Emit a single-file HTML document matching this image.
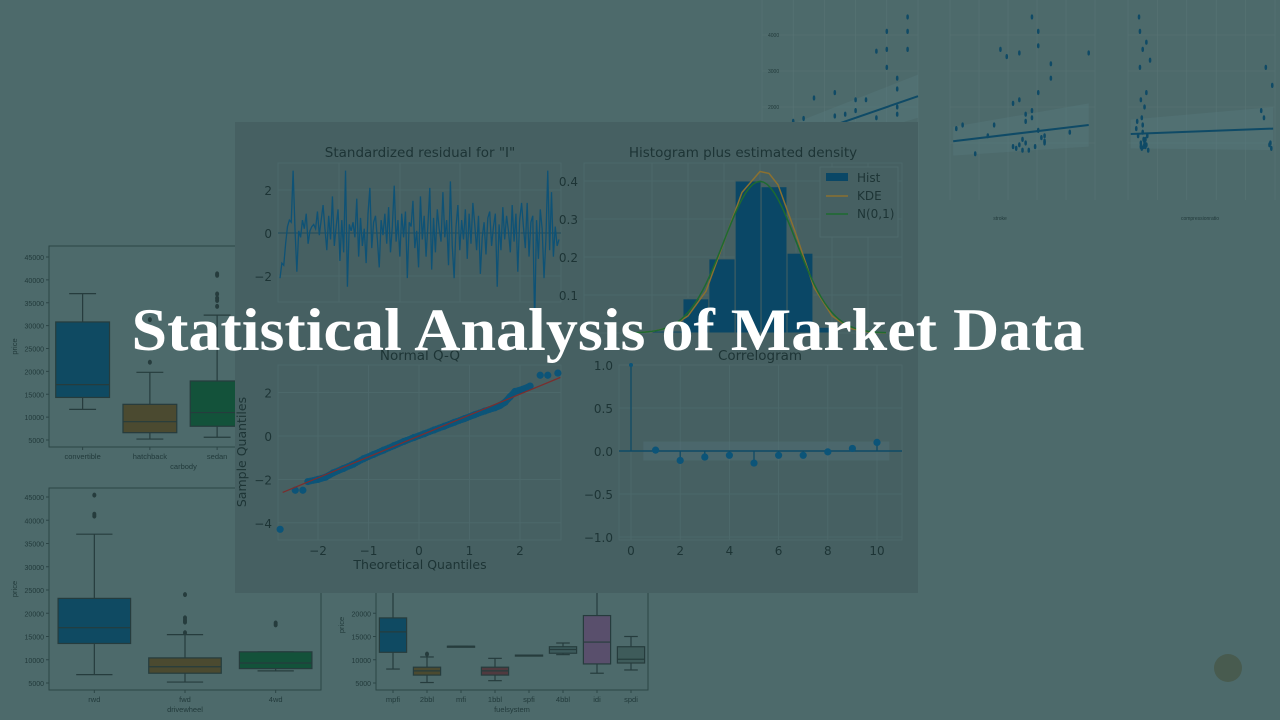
<!DOCTYPE html>
<html><head><meta charset="utf-8"><style>
html,body{margin:0;padding:0;background:#4d6a6b;width:1280px;height:720px;overflow:hidden}
svg{display:block}
.t{font-family:"DejaVu Sans","Liberation Sans",sans-serif;fill:#1d3435}
.s{font-family:"Liberation Sans",sans-serif;fill:#223a3b}
</style></head><body>
<svg id="c" width="1280" height="720" viewBox="0 0 1280 720" xmlns="http://www.w3.org/2000/svg">
<rect width="1280" height="720" fill="#4d6a6b"/>
<g id="bg"></g>
<g id="panel"></g>
<circle cx="1228" cy="668" r="14" fill="#485b4f"/>
<text x="608" y="350" text-anchor="middle" textLength="953" lengthAdjust="spacingAndGlyphs" font-family="'Liberation Serif',serif" font-weight="bold" font-size="60" fill="#ffffff">Statistical Analysis of Market Data</text>
</svg>
<script>
// ---- data ----
const carbodyCats=["convertible","hatchback","sedan","wagon"];
const carbodyStats=[[11700,14300,17100,30800,37000],[5200,6600,9000,12800,19800],[5600,8000,11000,17900,32300],[6900,8000,11900,15900,19000]];
const carbodyOut=[[],[22000,31300],[34200,35500,36000,36900,41000,41300],[]];
const driveCats=["rwd","fwd","4wd"];
const driveStats=[[6800,13500,16900,23200,37000],[5200,7100,8500,10400,15400],[7600,8100,9300,11700,11700]];
const driveOut=[[40900,41300,45400],[15800,18100,18500,19000,24000],[17500,17900]];
const fuelCats=["mpfi","2bbl","mfi","1bbl","spfi","4bbl","idi","spdi"];
const fuelStats=[[8000,11600,16000,19000,25000],[5100,6700,7600,8400,10600],[12900,12900,12900,12900,12900],[5500,6700,7600,8400,10300],[11000,11000,11000,11000,11000],[11100,11400,12200,12800,13600],[7100,9100,13800,19500,26000],[7800,9300,10100,12800,15000]];
const fuelOut=[[],[11200],[],[],[],[],[],[]];
const residuals=[-2.1,-1.4,-1.5,-0.5,0.3,0.6,0.5,2.9,0.2,-1.8,0.1,-0.2,0.6,0.2,0.9,-0.5,0.1,0.3,0.4,0.2,1.0,-0.1,0.6,1.3,0.2,-0.8,0.8,-0.3,1.7,-0.6,0.3,1.1,-1.3,0.6,-0.9,2.9,-2.5,0.4,0.1,0.5,-0.2,1.6,-1.1,0.7,-0.6,0.2,-1.4,0.9,2.1,-0.7,0.5,0.8,-0.3,-1.6,0.6,-0.1,0.9,-0.5,1.2,-0.9,0.3,2.2,-0.4,0.6,-1.1,0.9,-0.2,1.0,-2.1,0.5,0.3,1.5,-0.7,0.1,-1.6,1.7,-0.3,0.8,-1.1,0.4,2.1,-1.7,0.7,-0.9,1.1,0.2,-0.4,1.9,-0.2,0.6,-1.5,2.4,-0.6,-2.1,0.3,1.3,-0.8,0.6,-0.3,1.1,-1.2,0.9,-0.5,1.4,0.4,-0.8,0.8,-1.9,-0.2,0.5,-1.0,0.7,1.0,-0.6,0.3,0.9,-2.5,0.4,-0.8,1.2,-0.3,0.8,0.1,-0.9,1.3,-0.4,0.9,-1.8,0.6,1.4,0.3,-0.7,1.4,-1.1,0.5,0.8,-4.2,0.6,-1.2,1.1,0.2,-2.1,-0.3,2.9,-0.8,1.9,-1.1,0.3,-0.6,-0.3];
const histEdges=[-3.0,-2.14,-1.42,-0.69,0.03,0.75,1.47,2.17];
const histDens=[0.005,0.09,0.195,0.40,0.385,0.21,0.015];
const kdeX=[-3.5,-3,-2.5,-2,-1.5,-1,-0.5,0,0.25,0.5,1,1.5,2,2.5,3,3.5];
const kdeY=[0.0,0.004,0.015,0.045,0.11,0.24,0.37,0.425,0.42,0.39,0.26,0.12,0.045,0.012,0.003,0.0];
const qqT=[-2.75,-2.45,-2.3,-2.2,-2.0,-1.85,-1.7,-1.5,-1.3,-1.1,-0.9,-0.7,-0.5,-0.3,-0.1,0.1,0.3,0.5,0.7,0.9,1.1,1.3,1.5,1.6,1.7,1.8,1.9,2.05,2.2,2.4,2.55,2.75];
const qqS=[-4.3,-2.5,-2.5,-2.1,-2.0,-1.9,-1.7,-1.5,-1.3,-1.05,-0.85,-0.65,-0.45,-0.25,-0.07,0.1,0.28,0.45,0.63,0.8,0.98,1.15,1.3,1.4,1.55,1.8,2.05,2.15,2.3,2.8,2.8,2.9];
const acfLags=[0,1,2,3,4,5,6,7,8,9,10];
const acfVals=[1.0,0.01,-0.11,-0.07,-0.05,-0.14,-0.05,-0.05,-0.01,0.03,0.1];
const sc1X=[2.9,3.0,3.2,3.3,3.5,3.6,3.7,3.7,3.8,3.8,3.8,3.8,3.9,3.9,3.9,3.4,3.6,3.2,2.8,3.4,3.7,3.6,3.7,3.8,3.5,3.3,3.1];
const sc1Y=[16800,22500,24000,18000,22000,35500,36000,31000,28000,25000,20000,18000,41000,36000,45000,19000,17000,17500,16000,22000,41000,15000,12000,13000,14000,12500,11000];
const sc2X=[2.1,2.2,2.7,2.8,2.9,3.0,3.1,3.1,3.15,3.2,3.3,3.4,3.4,3.4,3.5,3.6,3.6,3.9,4.2,2.4,3.0,3.2,3.5,3.3,3.05,3.1,3.15,3.25,3.35,3.45,3.5,3.3,3.2,3.4,2.6];
const sc2Y=[14000,15000,15000,36000,34000,21000,35000,22000,8000,10000,45000,41000,37000,24000,10000,28000,32000,13000,35000,7000,9000,16000,12000,19000,8500,9500,11000,8000,9000,11500,10500,17000,18000,13500,12000];
const sc3X=[7.9,8.0,8.1,8.2,8.3,8.3,8.4,8.4,8.5,8.6,8.7,8.9,9.0,9.0,9.2,9.4,21.5,21.8,22.0,22.5,22.7,8.6,8.8,9.1,8.5,8.7,8.8,8.9,9.0,8.6,8.4,22.6,22.4];
const sc3Y=[14000,16000,12000,45000,41000,31000,22000,10000,17000,36000,11000,9000,38000,24000,8000,33000,19000,17000,31000,10000,26000,15000,20000,12000,8500,9000,10000,11000,9500,13000,9000,8500,9500];
const scYTicks=[20000,30000,40000];

// ---- helpers ----
const NS="http://www.w3.org/2000/svg";
function mk(p,tag,a){const e=document.createElementNS(NS,tag);for(const k in a)e.setAttribute(k,a[k]);p.appendChild(e);return e;}
function tx(p,x,y,s,size,anchor,cls){const e=mk(p,"text",{x:x,y:y,"font-size":size,"text-anchor":anchor||"middle",class:cls||"t"});e.textContent=s;return e;}
const bg=document.getElementById("bg"), pn=document.getElementById("panel");
const boxCols=["#0f4a62","#4b4a30","#13523a","#503a3f","#594f6c","#3c5a5b","#4b5250","#3e5b5a"];

function boxPlot(name,ax,cats,stats,outs,yScale,ticks,xlabel,cols,bw){
  const g=mk(bg,"g",{});
  
  
  mk(g,"rect",{x:ax.x0,y:ax.y0,width:ax.x1-ax.x0,height:ax.y1-ax.y0,fill:"none",stroke:"#2c4546","stroke-width":1});
  ticks.forEach(t=>{const y=yScale(t);mk(g,"line",{x1:ax.x0-3,y1:y,x2:ax.x0,y2:y,stroke:"#2c4546"});tx(g,ax.x0-5,y+3,String(t),7,"end","s");});
  const step=(ax.x1-ax.x0)/cats.length;
  cats.forEach((c,i)=>{
    const cx=ax.x0+step*(i+0.5), s=stats[i], w=step*bw;
    const b=mk(g,"g",{});
    
    
    mk(b,"line",{x1:cx,y1:yScale(s[0]),x2:cx,y2:yScale(s[4]),stroke:"#263c3d","stroke-width":1.2});
    mk(b,"line",{x1:cx-w/4,y1:yScale(s[0]),x2:cx+w/4,y2:yScale(s[0]),stroke:"#263c3d","stroke-width":1.2});
    mk(b,"line",{x1:cx-w/4,y1:yScale(s[4]),x2:cx+w/4,y2:yScale(s[4]),stroke:"#263c3d","stroke-width":1.2});
    mk(b,"rect",{x:cx-w/2,y:yScale(s[3]),width:w,height:Math.max(1,yScale(s[1])-yScale(s[3])),fill:cols[i],stroke:"#263c3d","stroke-width":1.2});
    mk(b,"line",{x1:cx-w/2,y1:yScale(s[2]),x2:cx+w/2,y2:yScale(s[2]),stroke:"#263c3d","stroke-width":1.2});
    outs[i].forEach(o=>mk(b,"ellipse",{cx:cx,cy:yScale(o),rx:2,ry:2.5,fill:"#263c3d"}));
    mk(g,"line",{x1:cx,y1:ax.y1,x2:cx,y2:ax.y1+3,stroke:"#2c4546"});
    tx(g,cx,ax.y1+12,c,7.5,"middle","s");
  });
  tx(g,(ax.x0+ax.x1)/2,ax.y1+22,xlabel,7.5,"middle","s");
  const yl=tx(g,ax.x0-32,(ax.y0+ax.y1)/2,"price",7.5,"middle","s");
  yl.setAttribute("transform","rotate(-90 "+(ax.x0-32)+" "+((ax.y0+ax.y1)/2)+")");
}
const priceTicks=[5000,10000,15000,20000,25000,30000,35000,40000,45000];
boxPlot("carbody-boxplot",{x0:49,x1:318,y0:246,y1:447},carbodyCats,carbodyStats,carbodyOut,v=>440-(v-5000)*0.004575,priceTicks,"carbody",[boxCols[0],boxCols[1],boxCols[2],boxCols[3]],0.8);
boxPlot("drivewheel-boxplot",{x0:49,x1:321,y0:488,y1:690},driveCats,driveStats,driveOut,v=>683-(v-5000)*0.00465,priceTicks,"drivewheel",[boxCols[0],boxCols[1],boxCols[2]],0.8);
boxPlot("fuelsystem-boxplot",{x0:376,x1:648,y0:560,y1:690},fuelCats,fuelStats,fuelOut,v=>683-(v-5000)*0.00465,[5000,10000,15000,20000],"fuelsystem",[boxCols[0],boxCols[1],boxCols[5],boxCols[3],boxCols[5],boxCols[5],boxCols[4],boxCols[7]],0.8);

function scatter(name,ax,xs,ys,xmin,xmax,fit,showTicks){
  const g=mk(bg,"g",{});
  
  
  const X=v=>ax.x0+(v-xmin)/(xmax-xmin)*(ax.x1-ax.x0), Y=v=>35+(40000-v)*0.0036;
  [10000,20000,30000,40000].forEach(t=>mk(g,"line",{x1:ax.x0,y1:Y(t),x2:ax.x1,y2:Y(t),stroke:"#587475","stroke-width":0.6}));
  if(showTicks) scYTicks.forEach(t=>tx(g,ax.x0+6,Y(t)+2,String(t/10),5,"start","s"));
  for(let i=0;i<=5;i++){const x=ax.x0+i*(ax.x1-ax.x0)/5;mk(g,"line",{x1:x,y1:ax.y0,x2:x,y2:ax.y1,stroke:"#587475","stroke-width":0.6});}
  mk(g,"polygon",{points:`${X(fit[0])},${Y(fit[1]-4000)} ${X(fit[2])},${Y(fit[3]-6000)} ${X(fit[2])},${Y(fit[3]+6000)} ${X(fit[0])},${Y(fit[1]+4000)}`,fill:"#5a7a80","fill-opacity":0.35});
  mk(g,"line",{x1:X(fit[0]),y1:Y(fit[1]),x2:X(fit[2]),y2:Y(fit[3]),stroke:"#0f4a66","stroke-width":2});
  xs.forEach((v,i)=>mk(g,"ellipse",{cx:X(v),cy:Y(ys[i]),rx:1.3,ry:2.6,fill:"#0f4a66"}));
}
scatter("boreratio-scatter",{x0:762,x1:918,y0:0,y1:200},sc1X,sc1Y,2.5,4.0,[2.5,8000,4.0,23000],true);
scatter("stroke-scatter",{x0:950,x1:1095,y0:0,y1:200},sc2X,sc2Y,2.0,4.3,[2.05,10500,4.2,15000],false);
scatter("compressionratio-scatter",{x0:1128,x1:1275,y0:0,y1:200},sc3X,sc3Y,7,23,[7.3,12500,22.8,14000],false);
tx(bg,1000,220,"stroke",5,"middle","s");tx(bg,1200,220,"compressionratio",5,"middle","s");

// ---- panel ----
mk(pn,"rect",{x:235,y:122,width:683,height:471,fill:"#466062"});
function axesFrame(g,x0,x1,y0,y1){mk(g,"rect",{x:x0,y:y0,width:x1-x0,height:y1-y0,fill:"none",stroke:"#4e6a6c","stroke-width":0.8});}
(function(){
  const g=mk(pn,"g",{});
  
  
  const x0=278,x1=561,y0=163,y1=302; const Y=v=>233-21.5*v;
  axesFrame(g,x0,x1,y0,y1);
  [-2,0,2].forEach(t=>{mk(g,"line",{x1:x0,y1:Y(t),x2:x1,y2:Y(t),stroke:t==0?"#1f4a5a":"#4e6a6c","stroke-width":t==0?1:0.8});tx(g,x0-6,Y(t)+5,t<0?"\u2212"+(-t):String(t),12,"end");});
  [339,400,460,520].forEach(x=>mk(g,"line",{x1:x,y1:y0,x2:x,y2:y1,stroke:"#4e6a6c","stroke-width":0.8}));
  const X=i=>x0+2+i*(x1-x0-4)/(residuals.length-1);
  mk(g,"polyline",{points:residuals.map((v,i)=>X(i)+","+Y(v)).join(" "),fill:"none",stroke:"#0e5276","stroke-width":1.3});
  tx(g,420,157,'Standardized residual for "I"',13.5);
})();
(function(){
  const g=mk(pn,"g",{});
  
  
  const x0=584,x1=902,y0=163,y1=333; const X=v=>760+36*v, Y=d=>333-380*d;
  axesFrame(g,x0,x1,y0,y1);
  [0.1,0.2,0.3,0.4].forEach(t=>{mk(g,"line",{x1:x0,y1:Y(t),x2:x1,y2:Y(t),stroke:"#4e6a6c","stroke-width":0.8});tx(g,x0-6,Y(t)+5,t.toFixed(1),12,"end");});
  [-3,-2,-1,0,1,2,3].forEach(t=>mk(g,"line",{x1:X(t),y1:y0,x2:X(t),y2:y1,stroke:"#4e6a6c","stroke-width":0.8}));
  histDens.forEach((d,i)=>{const r=mk(g,"rect",{x:X(histEdges[i]),y:Y(d),width:X(histEdges[i+1])-X(histEdges[i]),height:Y(0)-Y(d),fill:"#0a4766",stroke:"#466062","stroke-width":1});
    
    });
  mk(g,"polyline",{points:kdeX.map((v,i)=>X(v)+","+Y(kdeY[i])).join(" "),fill:"none",stroke:"#8a7030","stroke-width":1.5});
  let pts=[];for(let v=-3.5;v<=3.51;v+=0.1)pts.push(X(v)+","+Y(Math.exp(-v*v/2)/Math.sqrt(2*Math.PI)));
  mk(g,"polyline",{points:pts.join(" "),fill:"none",stroke:"#1d6a30","stroke-width":1.5});
  const lg=mk(g,"g",{});
  
  
  mk(lg,"rect",{x:820,y:167,width:78,height:70,fill:"#466062",stroke:"#4e6a6c"});
  mk(lg,"rect",{x:826,y:173,width:22,height:8,fill:"#0a4766"});tx(lg,857,182,"Hist",12,"start");
  mk(lg,"line",{x1:826,y1:196,x2:848,y2:196,stroke:"#8a7030","stroke-width":1.5});tx(lg,857,200,"KDE",12,"start");
  mk(lg,"line",{x1:826,y1:214,x2:848,y2:214,stroke:"#1d6a30","stroke-width":1.5});tx(lg,857,218,"N(0,1)",12,"start");
  tx(g,743,157,"Histogram plus estimated density",13.5);
})();
(function(){
  const g=mk(pn,"g",{});
  
  
  const x0=278,x1=561,y0=365,y1=540; const X=v=>419+50.5*v, Y=v=>436-21.7*v;
  axesFrame(g,x0,x1,y0,y1);
  [-4,-2,0,2].forEach(t=>{mk(g,"line",{x1:x0,y1:Y(t),x2:x1,y2:Y(t),stroke:"#4e6a6c","stroke-width":0.8});tx(g,x0-6,Y(t)+5,t<0?"\u2212"+(-t):String(t),12,"end");});
  [-2,-1,0,1,2].forEach(t=>{mk(g,"line",{x1:X(t),y1:y0,x2:X(t),y2:y1,stroke:"#4e6a6c","stroke-width":0.8});tx(g,X(t),555,t<0?"\u2212"+(-t):String(t),12);});
  const n=qqT.length;
  for(let i=0;i<n;i++){
    mk(g,"circle",{cx:X(qqT[i]),cy:Y(qqS[i]),r:3.6,fill:"#0c5478"});
    if(i>=3 && i<n-4){for(let k=1;k<4;k++){const f=k/4;mk(g,"circle",{cx:X(qqT[i]+(qqT[i+1]-qqT[i])*f),cy:Y(qqS[i]+(qqS[i+1]-qqS[i])*f),r:3.4,fill:"#0c5478"});}}
  }
  mk(g,"line",{x1:X(-2.7),y1:Y(-2.6),x2:X(2.8),y2:Y(2.7),stroke:"#7a2e2e","stroke-width":1.3});
  tx(g,420,569,"Theoretical Quantiles",12.5);
  const yl=tx(g,246,452,"Sample Quantiles",12.5);yl.setAttribute("transform","rotate(-90 246 452)");
  tx(g,420,360,"Normal Q-Q",13.5);
})();
(function(){
  const g=mk(pn,"g",{});
  
  
  const x0=619,x1=902,y0=365,y1=540; const X=v=>631+24.6*v, Y=v=>451-86*v;
  axesFrame(g,x0,x1,y0,y1);
  [-1,-0.5,0,0.5,1].forEach(t=>{mk(g,"line",{x1:x0,y1:Y(t),x2:x1,y2:Y(t),stroke:"#4e6a6c","stroke-width":0.8});tx(g,x0-6,Y(t)+5,(t<0?"\u2212":"")+Math.abs(t).toFixed(1),12,"end");});
  [0,2,4,6,8,10].forEach(t=>{mk(g,"line",{x1:X(t),y1:y0,x2:X(t),y2:y1,stroke:"#4e6a6c","stroke-width":0.8});tx(g,X(t),555,String(t),12);});
  mk(g,"rect",{x:X(0.5),y:Y(0.11),width:X(10.5)-X(0.5),height:Y(-0.11)-Y(0.11),fill:"#52707a","fill-opacity":0.45});
  mk(g,"line",{x1:x0,y1:Y(0),x2:x1,y2:Y(0),stroke:"#0e4a66","stroke-width":1.5});
  acfLags.forEach((l,i)=>{mk(g,"line",{x1:X(l),y1:Y(0),x2:X(l),y2:Y(acfVals[i]),stroke:"#0e4a66","stroke-width":1.3});
    const c=mk(g,"circle",{cx:X(l),cy:Y(acfVals[i]),r:l==0?2:3.6,fill:"#0c5478"});
    
    });
  tx(g,760,360,"Correlogram",13.5);
})();
</script>
</body></html>
